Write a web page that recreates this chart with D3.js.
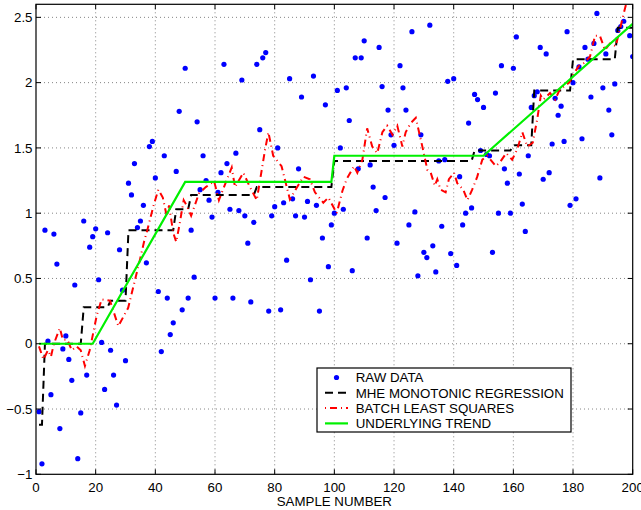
<!DOCTYPE html>
<html>
<head>
<meta charset="utf-8">
<script src="https://cdn.jsdelivr.net/npm/d3@7"></script>
<style>
  body { margin: 0; background: #fff; }
  text { font-family: "Liberation Sans", Arial, Helvetica, sans-serif; fill: #000; }
</style>
</head>
<body>
<div id="chart"></div>
<script>
// raw samples, one per sample number 1..200
var rawY = [
  -0.52,-0.92,0.87,0.02,-0.39,0.84,0.61,-0.65,-0.04,0.06,
  -0.12,-0.28,0.45,-0.88,-0.53,0.94,-0.24,0.74,0.82,0.88,
  0.49,0.01,-0.35,0.85,-0.05,-0.24,-0.47,0.72,0.41,-0.13,
  1.23,1.14,1.38,0.89,0.94,1.06,0.62,1.51,1.55,1.27,
  0.40,-0.06,1.44,0.35,0.07,0.16,1.32,1.78,0.26,2.11,
  0.35,0.87,0.51,1.70,1.18,1.44,1.25,1.10,0.97,0.35,
  1.16,1.31,2.14,1.38,1.03,0.35,1.46,1.02,2.02,0.98,
  0.77,0.32,0.93,2.14,1.64,2.19,2.23,0.25,0.98,1.05,
  1.50,0.26,1.08,0.64,2.03,1.11,0.98,1.34,1.89,0.97,
  1.09,0.49,2.05,1.06,0.25,0.81,1.83,0.59,0.91,1.00,
  1.94,1.50,1.03,1.96,1.71,0.56,2.19,1.34,2.19,2.32,
  0.81,1.37,1.20,1.02,2.27,1.97,1.12,1.79,1.60,1.52,
  0.77,2.13,1.96,1.79,0.91,2.39,1.01,0.52,1.60,0.70,
  0.66,2.44,0.75,0.55,1.40,0.90,1.41,2.01,0.69,2.03,
  0.60,1.28,0.91,1.00,1.69,1.04,1.91,1.87,1.48,1.81,
  1.45,1.44,0.70,1.92,1.00,2.13,1.34,1.23,1.00,2.11,
  2.35,1.30,1.07,0.86,1.44,1.81,1.90,1.93,2.27,1.26,
  2.22,1.31,1.53,1.88,1.75,1.82,1.55,2.39,1.06,2.00,
  1.11,2.12,1.57,2.27,2.18,1.89,2.30,2.53,1.27,1.96,
  2.22,1.79,1.60,1.99,2.40,2.43,2.47,2.70,2.36,2.20
];

// MHE monotonic regression: constant levels
var mheStart = [1, 3, 16, 25, 31, 47, 52, 74, 100, 147, 160, 167, 180, 195];
var mheEnd   = [2, 15, 24, 30, 46, 51, 73, 99, 146, 159, 166, 179, 194, 200];
var mheLevel = [-0.62, 0.0, 0.28, 0.33, 0.87, 1.03, 1.14, 1.2, 1.40, 1.48, 1.52, 1.94, 2.18, 2.42];

// batch least squares
var lsX = [1,2.5,4,5,6,8,9,10.5,12,13.6,15,16.4,18,20.3,22,24.8,27.6,30.9,33.2,34.9,
  36.2,37.3,39.3,41,42.5,43.8,44.6,46,47,48,49.5,50.7,52,54.6,56.9,59.7,61.3,63,65.6,66.7,
  69.5,71.7,74,76.8,77.9,79.5,82.3,85.1,87,89.6,91.8,93.5,96.3,98,100.8,102.7,104.1,106.6,107.7,109.4,
  111,112.7,114.4,116.1,117.7,119.5,121.1,122.8,123.9,125.6,127.3,128.4,129.5,131.2,132.3,133.7,134.5,135.6,137.3,138.4,
  140.1,141.2,143.2,144.6,146.2,147.9,149.6,151.3,154.1,155.5,157.6,159.6,161.3,163,164.7,166.5,168,169.2,170,172.3,
  174,175.6,177,178.7,180.3,182,183.7,185.7,187.4,189,190.7,192.4,194.3,195.4,197,198];
var lsY = [-0.02,-0.12,-0.05,-0.1,0.0,0.12,0.03,0.03,-0.05,-0.02,-0.05,-0.17,-0.05,0.21,0.34,0.33,0.135,0.275,0.49,0.65,
  0.78,0.87,1.05,1.18,1.12,0.98,1.06,0.85,0.78,0.9,1.1,1.05,0.98,1.15,1.2,1.245,1.1,1.2,1.35,1.2,
  1.31,1.2,1.1,1.49,1.62,1.44,1.36,1.105,1.18,1.28,1.26,1.16,1.08,1.12,1.0,1.17,1.26,1.36,1.31,1.41,
  1.65,1.51,1.46,1.62,1.67,1.6,1.67,1.51,1.62,1.69,1.73,1.62,1.51,1.33,1.31,1.21,1.26,1.18,1.16,1.26,
  1.31,1.23,1.18,1.1,1.18,1.28,1.41,1.44,1.36,1.39,1.46,1.41,1.49,1.62,1.51,1.54,1.72,1.9,1.87,1.92,
  1.87,1.95,1.97,2.0,2.07,2.13,2.15,2.2,2.36,2.36,2.25,2.3,2.28,2.38,2.53,2.62];

// underlying trend
var trendX = [1, 19, 50, 99, 100, 150, 200];
var trendY = [0, 0, 1.24, 1.24, 1.44, 1.44, 2.45];

var xTicks = [0, 20, 40, 60, 80, 100, 120, 140, 160, 180, 200];
var yTicks = [-1, -0.5, 0, 0.5, 1, 1.5, 2, 2.5];
var legendLabels = ["RAW DATA", "MHE MONOTONIC REGRESSION", "BATCH LEAST SQUARES", "UNDERLYING TREND"];

var W = 641, H = 510,
    pl = 36, pr = 632.7, pt = 4.3, pb = 474.3;

var x = d3.scaleLinear().domain([0, 200]).range([pl, pr]),
    y = d3.scaleLinear().domain([-1, 2.6]).range([pb, pt]);

var svg = d3.select("#chart").append("svg")
    .attr("width", W).attr("height", H)
    .style("display", "block");

svg.append("rect").attr("width", W).attr("height", H).attr("fill", "#fff");

svg.append("clipPath").attr("id", "plotclip")
  .append("rect")
    .attr("x", pl).attr("y", pt)
    .attr("width", pr - pl).attr("height", pb - pt);

// grid
var grid = svg.append("g").attr("stroke", "#666").attr("stroke-width", 0.8)
    .attr("stroke-dasharray", "1,3");
grid.selectAll("line.gx")
    .data(xTicks.slice(1, -1))
  .enter().append("line")
    .attr("x1", function(d) { return x(d); }).attr("x2", function(d) { return x(d); })
    .attr("y1", pt).attr("y2", pb);
grid.selectAll("line.gy")
    .data(yTicks.slice(1))
  .enter().append("line")
    .attr("x1", pl).attr("x2", pr)
    .attr("y1", function(d) { return y(d); }).attr("y2", function(d) { return y(d); });

var plot = svg.append("g").attr("clip-path", "url(#plotclip)");

var raw = rawY.map(function(v, i) { return {s: i + 1, v: v}; });

plot.selectAll("circle.raw")
    .data(raw)
  .enter().append("circle")
    .attr("class", "raw")
    .attr("cx", function(d) { return x(d.s); })
    .attr("cy", function(d) { return y(d.v); })
    .attr("r", 2.6)
    .attr("fill", "#0000ff");

var line = d3.line()
    .x(function(d) { return x(d[0]); })
    .y(function(d) { return y(d[1]); });

var mhePts = [];
mheLevel.forEach(function(l, i) {
  mhePts.push([mheStart[i], l]);
  mhePts.push([mheEnd[i], l]);
});

plot.append("path")
    .attr("d", line(mhePts))
    .attr("fill", "none").attr("stroke", "#000").attr("stroke-width", 2)
    .attr("stroke-dasharray", "8,5");

plot.append("path")
    .attr("d", line(lsX.map(function(d, i) { return [d, lsY[i]]; })))
    .attr("fill", "none").attr("stroke", "#ff0000").attr("stroke-width", 2)
    .attr("stroke-dasharray", "7,4,1,4");

plot.append("path")
    .attr("d", line(trendX.map(function(d, i) { return [d, trendY[i]]; })))
    .attr("fill", "none").attr("stroke", "#00f000").attr("stroke-width", 2.2);

// axes box with inward ticks
var axes = svg.append("g");
axes.append("rect")
    .attr("x", pl).attr("y", pt)
    .attr("width", pr - pl).attr("height", pb - pt)
    .attr("fill", "none").attr("stroke", "#000").attr("stroke-width", 1.2);

var tl = 5;
axes.selectAll("line.xtb")
    .data(xTicks)
  .enter().append("line")
    .attr("x1", function(d) { return x(d); }).attr("x2", function(d) { return x(d); })
    .attr("y1", pb).attr("y2", pb - tl)
    .attr("stroke", "#000");
axes.selectAll("line.xtt")
    .data(xTicks)
  .enter().append("line")
    .attr("x1", function(d) { return x(d); }).attr("x2", function(d) { return x(d); })
    .attr("y1", pt).attr("y2", pt + tl)
    .attr("stroke", "#000");
axes.selectAll("line.ytl")
    .data(yTicks)
  .enter().append("line")
    .attr("x1", pl).attr("x2", pl + tl)
    .attr("y1", function(d) { return y(d); }).attr("y2", function(d) { return y(d); })
    .attr("stroke", "#000");
axes.selectAll("line.ytr")
    .data(yTicks)
  .enter().append("line")
    .attr("x1", pr).attr("x2", pr - tl)
    .attr("y1", function(d) { return y(d); }).attr("y2", function(d) { return y(d); })
    .attr("stroke", "#000");

var fmt = function(d) { return d < 0 ? "\u2212" + Math.abs(d) : String(d); };

axes.selectAll("text.xl")
    .data(xTicks)
  .enter().append("text")
    .attr("x", function(d) { return x(d); })
    .attr("y", 492)
    .attr("text-anchor", "middle")
    .style("font-size", "13.3px")
    .text(fmt);

axes.selectAll("text.yl")
    .data(yTicks)
  .enter().append("text")
    .attr("x", 32.5)
    .attr("y", function(d) { return y(d) + 4.7; })
    .attr("text-anchor", "end")
    .style("font-size", "13.3px")
    .text(fmt);

svg.append("text")
    .attr("x", (pl + pr) / 2)
    .attr("y", 506)
    .attr("text-anchor", "middle")
    .style("font-size", "13.3px")
    .text("SAMPLE NUMBER");

// legend
var lg = svg.append("g").attr("transform", "translate(317,368)");
lg.append("rect")
    .attr("width", 254).attr("height", 64)
    .attr("fill", "#fff").attr("stroke", "#000").attr("stroke-width", 1.2);

var rows = lg.selectAll("g.row")
    .data(legendLabels)
  .enter().append("g")
    .attr("transform", function(d, i) { return "translate(0," + (9.5 + i * 15.3) + ")"; });

rows.append("text")
    .attr("x", 38.7).attr("y", 4.7)
    .style("font-size", "13.3px")
    .text(function(d) { return d; });

rows.filter(function(d, i) { return i == 0; }).append("circle")
    .attr("cx", 19.5).attr("cy", 0).attr("r", 2.6).attr("fill", "#0000ff");
rows.filter(function(d, i) { return i == 1; }).append("line")
    .attr("x1", 8).attr("x2", 31).attr("stroke", "#000").attr("stroke-width", 2)
    .attr("stroke-dasharray", "8,5");
rows.filter(function(d, i) { return i == 2; }).append("line")
    .attr("x1", 8).attr("x2", 31).attr("stroke", "#ff0000").attr("stroke-width", 2)
    .attr("stroke-dasharray", "1,4,7,4");
rows.filter(function(d, i) { return i == 3; }).append("line")
    .attr("x1", 8).attr("x2", 31).attr("stroke", "#00f000").attr("stroke-width", 2.2);
</script>
</body>
</html>
